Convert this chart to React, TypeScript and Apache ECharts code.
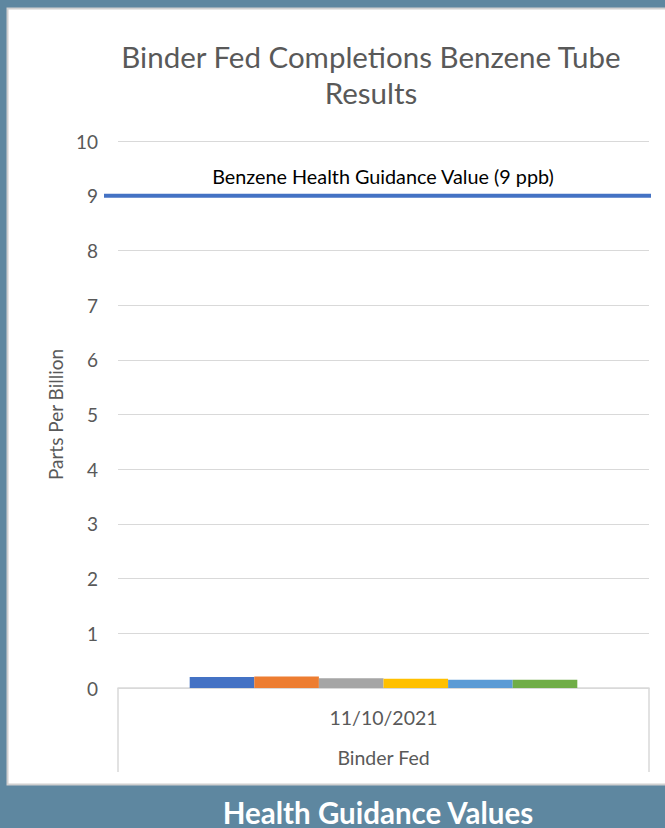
import React, { useEffect, useRef } from "react";
import * as echarts from "echarts";

const titleText = "Binder Fed Completions Benzene Tube\nResults";
const dates = ["11/10/2021"];
const groups = ["Binder Fed"];
const seriesNames = ["S1", "S2", "S3", "S4", "S5", "S6"];
const seriesValues = [[0.2], [0.21], [0.18], [0.17], [0.15], [0.15]];
const seriesColors = ["#4472C4", "#ED7D31", "#A5A5A5", "#FFC000", "#5B9BD5", "#70AD47"];
const guidanceValue = 9;
const guidanceLabel = "Benzene Health Guidance Value (9 ppb)";
const yTicks = { min: 0, max: 10, interval: 1 };
const yAxisName = "Parts Per Billion";
const footerText = "Health Guidance Values";

export default function App() {
  const ref = useRef<HTMLDivElement>(null);
  useEffect(() => {
    if (!ref.current) return;
    const chart = echarts.init(ref.current, null, { renderer: "svg" });
    const font = "Lato, 'Open Sans', sans-serif";
    const option: any = {
      animation: false,
      backgroundColor: "#5E87A0",
      textStyle: { fontFamily: font },
      title: {
        text: titleText,
        left: 371,
        textAlign: "center",
        top: 33,
        textStyle: { fontSize: 29.5, fontWeight: "normal", color: "#595959", lineHeight: 36, fontFamily: font },
      },
      grid: { left: 118, right: 16, top: 141, bottom: 140, containLabel: false },
      xAxis: {
        type: "category",
        data: dates,
        axisLine: { lineStyle: { color: "#D9D9D9", width: 1.5 } },
        axisTick: { show: true, length: 84, lineStyle: { color: "#D9D9D9", width: 1.5 } },
        axisLabel: {
          margin: 9,
          formatter: (v: string, i: number) => `{a|${v}}\n{b|${groups[i] ?? ""}}`,
          rich: {
            a: { fontSize: 19.5, color: "#595959", lineHeight: 40, fontFamily: font },
            b: { fontSize: 19.5, color: "#595959", lineHeight: 40, fontFamily: font },
          },
        },
      },
      yAxis: {
        type: "value",
        min: yTicks.min,
        max: yTicks.max,
        interval: yTicks.interval,
        name: yAxisName,
        nameLocation: "middle",
        nameGap: 53,
        nameRotate: 90,
        nameTextStyle: { fontSize: 19, color: "#595959", fontFamily: font },
        axisLine: { show: false },
        axisTick: { show: false },
        axisLabel: { fontSize: 19, color: "#595959", margin: 20, fontFamily: font },
        splitLine: { lineStyle: { color: "#D9D9D9", width: 1 } },
      },
      series: seriesNames.map((n, i) => ({
        name: n,
        type: "bar",
        data: seriesValues[i],
        barGap: "0%",
        barCategoryGap: "27%",
        itemStyle: { color: seriesColors[i] },
      })),
      graphic: [
        {
          type: "rect",
          z: -10,
          silent: true,
          shape: { x: 7.5, y: 8.5, width: 670, height: 776 },
          style: { fill: "#FFFFFF", stroke: "#D0D0D0", lineWidth: 2 },
        },
        {
          type: "text",
          x: 378,
          y: 812,
          style: {
            text: footerText,
            fill: "#FFFFFF",
            font: `bold 29.5px ${font}`,
            textAlign: "center",
            textVerticalAlign: "middle",
          },
        },
      ],
    };
    option.title.left = 366;
    chart.setOption(option);
    const yPix = chart.convertToPixel({ yAxisIndex: 0 }, guidanceValue) as number;
    chart.setOption({
      graphic: [
        option.graphic[0],
        option.graphic[1],
        {
          type: "line",
          z: 10,
          shape: { x1: 104, y1: yPix, x2: 651, y2: yPix },
          style: { stroke: "#4472C4", lineWidth: 4 },
        },
        {
          type: "text",
          z: 10,
          x: 383,
          y: yPix - 20,
          style: {
            text: guidanceLabel,
            fill: "#000000",
            font: `19.8px ${font}`,
            textAlign: "center",
            textVerticalAlign: "middle",
          },
        },
      ],
    });
    return () => chart.dispose();
  }, []);
  return <div ref={ref} style={{ position: "fixed", left: 0, top: 0, width: 665, height: 828 }} />;
}
